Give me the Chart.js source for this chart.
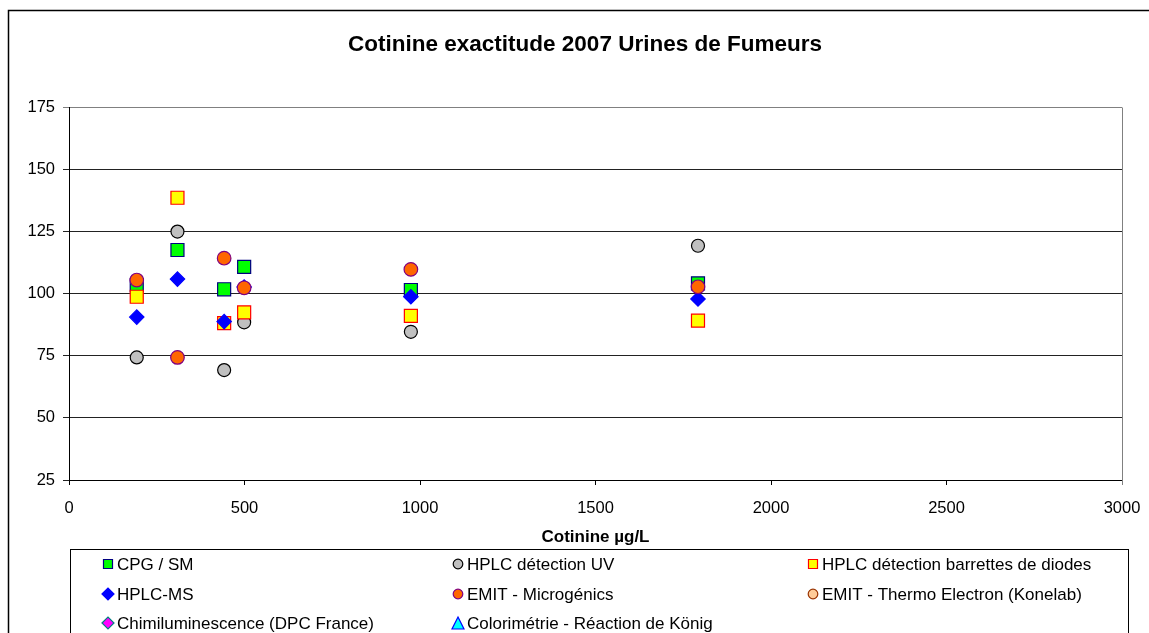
<!DOCTYPE html>
<html>
<head>
<meta charset="utf-8">
<script src="https://cdn.jsdelivr.net/npm/chart.js@4.4.1/dist/chart.umd.min.js"></script>
<style>
  html, body { margin: 0; padding: 0; background: #fff; }
  #wrap { width: 1149px; height: 633px; position: relative; }
</style>
</head>
<body>
<div id="wrap"><canvas id="c" width="1149" height="633"></canvas></div>
<script>
// ---- data ----
const chartTitle = "Cotinine exactitude 2007 Urines de Fumeurs";
const xAxisTitle = "Cotinine µg/L";
const concentrations = [193, 309, 442, 499, 974, 1792];
const seriesNames = [
  "CPG / SM",
  "HPLC détection UV",
  "HPLC détection barrettes de diodes",
  "HPLC-MS",
  "EMIT - Microgénics",
  "EMIT - Thermo Electron (Konelab)",
  "Chimiluminescence (DPC France)",
  "Colorimétrie - Réaction de König"
];
const cpgSm        = [103.4, 117.5, 101.7, 110.7, 101.4, 104.1];
const hplcUv       = [74.3, 124.9, 69.2, 88.4, 84.6, 119.2];
const hplcDiodes   = [98.7, 138.5, 88.1, 92.4, 91.0, 89.1];
const hplcMs       = [90.5, 105.8, 88.7, 102.6, 98.7, 97.8];
const emitMicro    = [105.4, 74.3, 114.2, 102.3, 109.7, 102.7];
const emitThermo   = [];
const chimilum     = [];
const colorimetrie = [];
const xTicks = [0, 500, 1000, 1500, 2000, 2500, 3000];
const yTicks = [25, 50, 75, 100, 125, 150, 175];

const seriesValues = [cpgSm, hplcUv, hplcDiodes, hplcMs, emitMicro, emitThermo, chimilum, colorimetrie];
const styles = [
  {shape: 'rect',     fill: '#00FF00', stroke: '#000080', r: 9.2},
  {shape: 'circle',   fill: '#C0C0C0', stroke: '#000000', r: 6.5},
  {shape: 'rect',     fill: '#FFFF00', stroke: '#FF0000', r: 9.2},
  {shape: 'rectRot',  fill: '#0000FF', stroke: '#0000FF', r: 7.2},
  {shape: 'circle',   fill: '#FF6600', stroke: '#800080', r: 6.8},
  {shape: 'circle',   fill: '#FFCC99', stroke: '#993300', r: 6.5},
  {shape: 'rectRot',  fill: '#FF00FF', stroke: '#008080', r: 7.2},
  {shape: 'triangle', fill: '#00FFFF', stroke: '#0000FF', r: 7}
];

const N = seriesNames.length;
const datasets = seriesNames.map((name, i) => ({
  label: name,
  data: seriesValues[i].map((v, k) => ({x: concentrations[k], y: v})),
  pointStyle: styles[i].shape,
  pointRadius: styles[i].r,
  pointHoverRadius: styles[i].r,
  backgroundColor: styles[i].fill,
  borderColor: styles[i].stroke,
  pointBorderWidth: 1.2,
  showLine: false,
  order: N - i
}));

const FONT = "'Liberation Sans', Arial, sans-serif";

function drawMarker(ctx, shape, x, y, s, fill, stroke) {
  ctx.save();
  ctx.fillStyle = fill; ctx.strokeStyle = stroke; ctx.lineWidth = 1.2;
  ctx.beginPath();
  if (shape === 'rect') {
    ctx.rect(x - s, y - s, 2 * s, 2 * s);
  } else if (shape === 'circle') {
    ctx.arc(x, y, s, 0, Math.PI * 2);
  } else if (shape === 'rectRot') {
    ctx.moveTo(x - s - 1, y); ctx.lineTo(x, y - s - 1); ctx.lineTo(x + s + 1, y); ctx.lineTo(x, y + s + 1); ctx.closePath();
  } else if (shape === 'triangle') {
    ctx.moveTo(x, y - s - 1); ctx.lineTo(x + s + 1, y + s + 1); ctx.lineTo(x - s - 1, y + s + 1); ctx.closePath();
  }
  ctx.fill(); ctx.stroke();
  ctx.restore();
}

const decor = {
  id: 'decor',
  beforeDraw(chart) {
    const ctx = chart.ctx;
    ctx.save();
    ctx.fillStyle = '#fff';
    ctx.fillRect(0, 0, chart.width, chart.height);
    ctx.restore();
  },
  afterDraw(chart) {
    const ctx = chart.ctx;
    const a = chart.chartArea;
    ctx.save();
    // plot frame right (gray)
    ctx.strokeStyle = '#808080'; ctx.lineWidth = 1;
    ctx.beginPath();
    ctx.moveTo(Math.round(a.right) + 0.5, Math.round(a.top) + 0.5);
    ctx.lineTo(Math.round(a.right) + 0.5, Math.round(a.bottom) + 5);
    ctx.stroke();
    // outer border
    ctx.strokeStyle = '#000'; ctx.lineWidth = 1.5;
    ctx.beginPath();
    ctx.moveTo(8.5, chart.height + 2); ctx.lineTo(8.5, 10.5); ctx.lineTo(chart.width + 2, 10.5);
    ctx.stroke();
    // title
    ctx.fillStyle = '#000';
    ctx.font = "bold 22.5px " + FONT;
    ctx.textAlign = 'center'; ctx.textBaseline = 'middle';
    ctx.fillText(chartTitle, 585, 45);
    // legend box
    ctx.strokeStyle = '#000'; ctx.lineWidth = 1;
    ctx.strokeRect(70.5, 549.5, 1058, 120);
    ctx.font = "17px " + FONT;
    ctx.textAlign = 'left'; ctx.textBaseline = 'middle';
    const colsX = [117, 467, 822];
    const rowsY = [564, 594, 623];
    const legSize = {rect: 4.5, circle: 4.8, rectRot: 5, triangle: 5};
    chart.data.datasets.forEach((ds, i) => {
      const col = i % 3, row = Math.floor(i / 3);
      const tx = colsX[col], ty = rowsY[row];
      drawMarker(ctx, ds.pointStyle, tx - 9, ty, legSize[ds.pointStyle], ds.backgroundColor, ds.borderColor);
      ctx.fillStyle = '#000';
      ctx.fillText(ds.label, tx, ty + 1);
    });
    ctx.restore();
  }
};

new Chart(document.getElementById('c'), {
  type: 'scatter',
  data: { datasets },
  options: {
    responsive: false,
    animation: false,
    devicePixelRatio: 1,
    layout: { padding: { left: 0, top: 107, right: 27, bottom: 83 } },
    plugins: { legend: { display: false }, title: { display: false }, tooltip: { enabled: false } },
    scales: {
      x: {
        type: 'linear', min: xTicks[0], max: xTicks[xTicks.length - 1],
        afterBuildTicks(scale) { scale.ticks = xTicks.map(v => ({value: v})); },
        afterFit(scale) { scale.height = 70; scale.paddingLeft = 0; scale.paddingRight = 0; },
        ticks: { color: '#000', font: { family: FONT, size: 16.5 }, padding: 14, maxRotation: 0, callback: (v) => String(v) },
        grid: { drawOnChartArea: false, drawTicks: true, tickLength: 5, color: '#000' },
        border: { color: '#000', width: 1 },
        title: { display: true, text: xAxisTitle, color: '#000', font: { family: FONT, size: 17, weight: 'bold' }, padding: { top: 0, bottom: 2 } }
      },
      y: {
        type: 'linear', min: yTicks[0], max: yTicks[yTicks.length - 1],
        afterBuildTicks(scale) { scale.ticks = yTicks.map(v => ({value: v})); },
        afterFit(scale) { scale.width = 69; scale.paddingTop = 0; scale.paddingBottom = 0; },
        ticks: { color: '#000', font: { family: FONT, size: 16.5 }, padding: 8, callback: (v) => String(v) },
        grid: { color: (c) => (c.tick && c.tick.value === 175 ? '#808080' : '#222'), tickLength: 6, lineWidth: 1 },
        border: { color: '#000', width: 1 }
      }
    }
  },
  plugins: [decor]
});
</script>
</body>
</html>
